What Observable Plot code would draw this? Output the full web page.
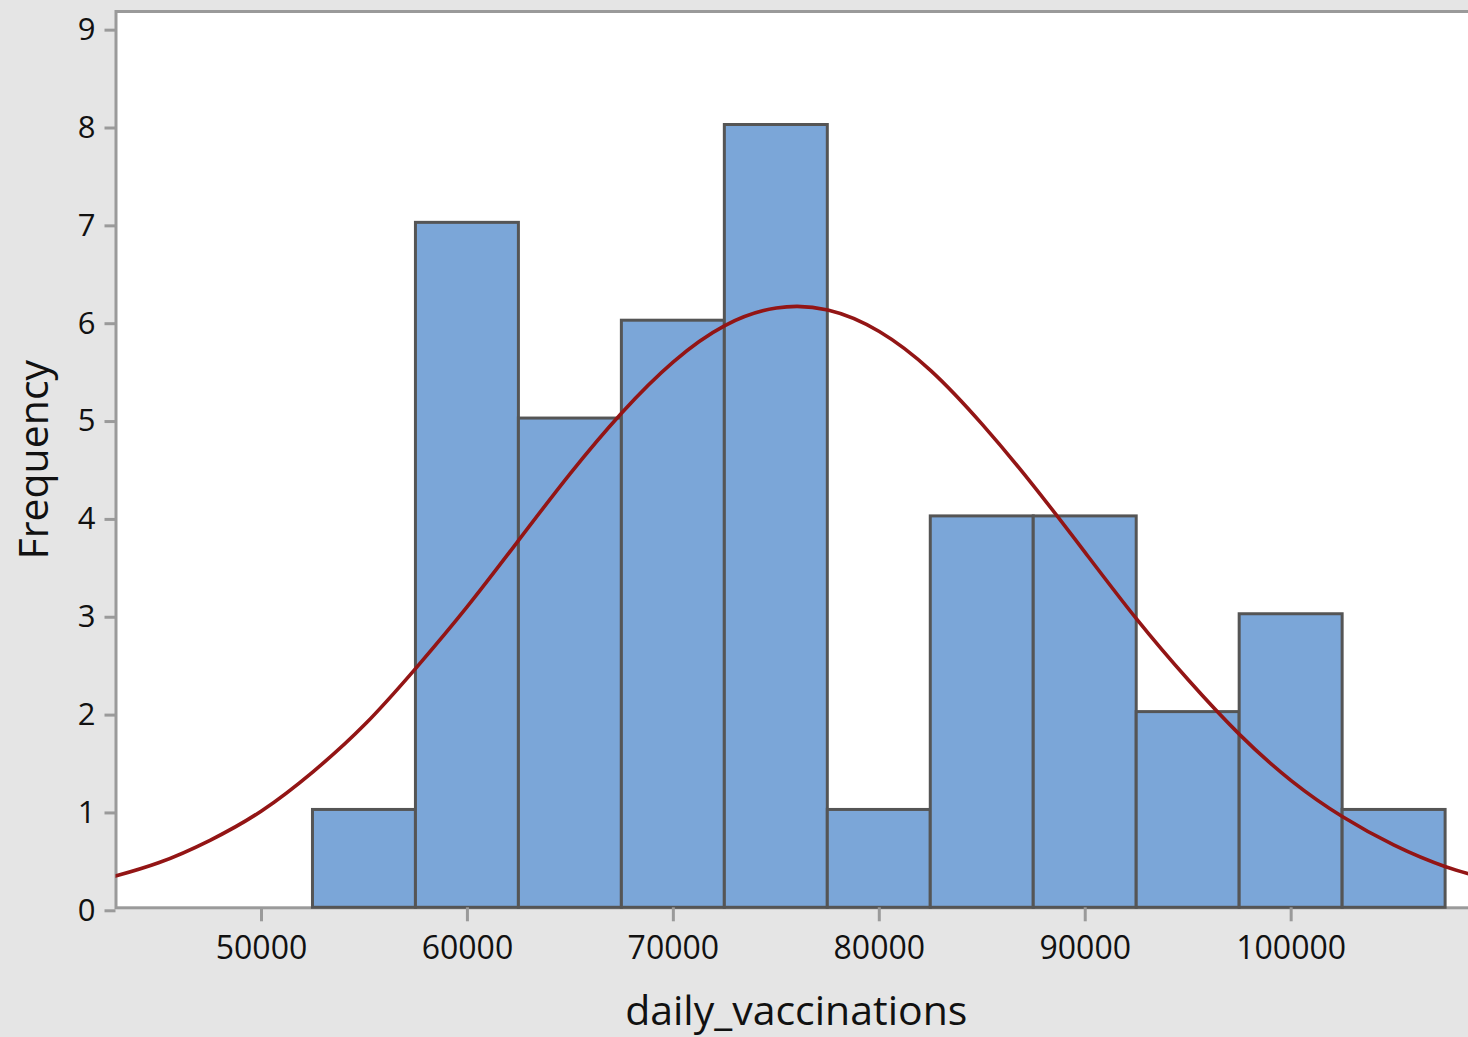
<!DOCTYPE html>
<html>
<head>
<meta charset="utf-8">
<script src="https://cdn.jsdelivr.net/npm/d3@7"></script>
<script src="https://cdn.jsdelivr.net/npm/@observablehq/plot@0.6"></script>
<style>
  html, body { margin: 0; padding: 0; background: #e5e5e5; overflow: hidden; }
  #chart svg { display: block; max-width: none !important; }
</style>
</head>
<body>
<div id="chart"></div>
<script>
// Histogram bins (left edge, right edge) and frequencies
const binStart = [52500, 57500, 62500, 67500, 72500, 77500, 82500, 87500, 92500, 97500, 102500];
const binEnd   = [57500, 62500, 67500, 72500, 77500, 82500, 87500, 92500, 97500, 102500, 107500];
const frequency = [1, 7, 5, 6, 8, 1, 4, 4, 2, 3, 1];

// Fitted normal curve
const curveX = [42500, 45000, 47500, 50000, 52500, 55000, 57500, 60000, 62500, 65000, 67500, 70000,
  72500, 75000, 77500, 80000, 82500, 85000, 87500, 90000, 92500, 95000, 97500, 100000, 102500, 105000, 107500, 110000];
const curveY = [0.30, 0.46, 0.69, 0.99, 1.39, 1.87, 2.45, 3.08, 3.76, 4.44, 5.06, 5.58,
  5.95, 6.13, 6.11, 5.89, 5.49, 4.94, 4.31, 3.63, 2.95, 2.33, 1.77, 1.30, 0.93, 0.64, 0.42, 0.27];

// Tick labels
const xTicks = [50000, 60000, 70000, 80000, 90000, 100000];
const yTicks = [0, 1, 2, 3, 4, 5, 6, 7, 8, 9];

const bins = binStart.map((s, i) => ({x1: s, x2: binEnd[i], y: frequency[i]}));
const curve = curveX.map((x, i) => ({x, y: curveY[i]}));

const chart = Plot.plot({
  width: 1480,
  height: 1037,
  marginLeft: 115.5,
  marginRight: 4,
  marginTop: 11,
  marginBottom: 129.7,
  x: {domain: [42935, 109000]},
  y: {domain: [0, 9.16]},
  style: {background: "transparent", fontFamily: "'Open Sans', sans-serif", color: "#111"},
  marks: [
    Plot.frame({fill: "white", stroke: "#9a9a9a", strokeWidth: 3}),
    Plot.rectY(bins, {x1: "x1", x2: "x2", y: "y", fill: "#7ba6d8", stroke: "#555555", strokeWidth: 3}),
    Plot.line(curve, {x: "x", y: "y", stroke: "#931515", strokeWidth: 3.6, curve: "natural", clip: true}),
    Plot.axisX({ticks: xTicks, tickFormat: d3.format("d"), tickSize: 14, tickPadding: 14, fontSize: 32,
      stroke: "#9a9a9a", strokeWidth: 3, fill: "#111", label: null}),
    Plot.axisY({ticks: yTicks, tickFormat: d3.format("d"), tickSize: 11, tickPadding: 9.5, fontSize: 31,
      stroke: "#9a9a9a", strokeWidth: 3, fill: "#111", dy: 3, label: null}),
    Plot.text(["daily_vaccinations"], {frameAnchor: "bottom", lineAnchor: "middle", textAnchor: "middle",
      dy: 104, fontSize: 41, fill: "#111"}),
    Plot.text(["Frequency"], {frameAnchor: "left", lineAnchor: "middle", textAnchor: "middle",
      dx: -81, rotate: -90, fontSize: 41, fill: "#111"})
  ]
});
document.getElementById("chart").appendChild(chart);
</script>
</body>
</html>
